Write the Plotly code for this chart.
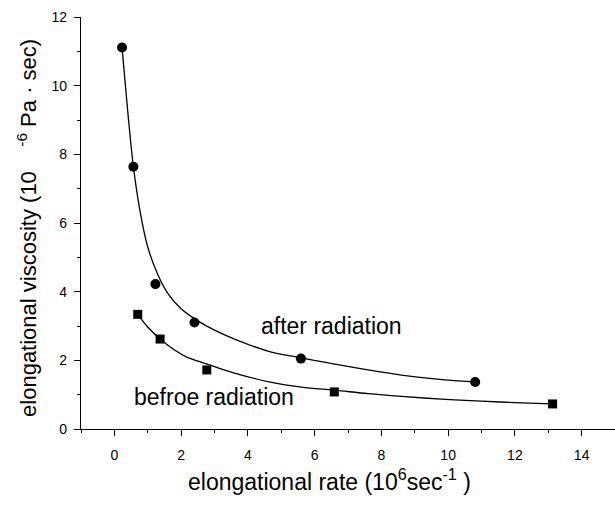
import plotly.graph_objects as go

# measured data points
after_x = [0.23, 0.57, 1.23, 2.40, 5.59, 10.81]
after_y = [11.11, 7.64, 4.22, 3.10, 2.05, 1.37]
before_x = [0.70, 1.37, 2.77, 6.59, 13.13]
before_y = [3.34, 2.62, 1.72, 1.08, 0.73]

# fitted curves
after_fit_x = [0.23, 0.4, 0.57, 0.75, 1.0, 1.3, 1.6, 2.0, 2.5, 3.0, 3.6, 4.6, 5.6, 6.6, 7.6, 8.6, 9.6, 10.8]
after_fit_y = [11.1, 9.25, 7.64, 6.45, 5.3, 4.5, 3.95, 3.5, 3.15, 2.88, 2.62, 2.27, 2.07, 1.89, 1.72, 1.57, 1.46, 1.37]
before_fit_x = [0.70, 1.0, 1.37, 1.8, 2.2, 2.6, 3.1, 3.6, 4.6, 5.6, 6.6, 7.6, 8.6, 9.8, 11.0, 12.0, 13.1]
before_fit_y = [3.34, 2.97, 2.62, 2.3, 2.08, 1.95, 1.78, 1.63, 1.38, 1.22, 1.13, 1.03, 0.95, 0.87, 0.81, 0.77, 0.73]

x_ticks = [0, 2, 4, 6, 8, 10, 12, 14]
y_ticks = [0, 2, 4, 6, 8, 10, 12]

x_title = "elongational rate (10<sup>6</sup>sec<sup>-1</sup> )"
y_title = "elongational viscosity (10    <sup>-6</sup> Pa · sec)"

FONT = "Arial, Liberation Sans, Helvetica, sans-serif"

fig = go.Figure()
fig.add_trace(go.Scatter(x=after_fit_x, y=after_fit_y, mode="lines",
                         line=dict(color="black", width=1.3, shape="spline", smoothing=1.0),
                         showlegend=False, hoverinfo="skip"))
fig.add_trace(go.Scatter(x=before_fit_x, y=before_fit_y, mode="lines",
                         line=dict(color="black", width=1.3, shape="spline", smoothing=1.0),
                         showlegend=False, hoverinfo="skip"))
fig.add_trace(go.Scatter(x=after_x, y=after_y, mode="markers", name="after radiation",
                         marker=dict(symbol="circle", size=10, color="black"), showlegend=False))
fig.add_trace(go.Scatter(x=before_x, y=before_y, mode="markers", name="befroe radiation",
                         marker=dict(symbol="square", size=9, color="black"), showlegend=False))

fig.add_annotation(x=6.52, y=3.0, text="after radiation", showarrow=False,
                   font=dict(size=23, color="black", family=FONT), xref="x", yref="y")
fig.add_annotation(x=2.99, y=0.94, text="befroe radiation", showarrow=False,
                   font=dict(size=23, color="black", family=FONT), xref="x", yref="y")

# axis titles placed as annotations to match the reference position
fig.add_annotation(x=0.466, y=0, xref="paper", yref="paper", yshift=-51,
                   xanchor="center", yanchor="middle", text=x_title, showarrow=False,
                   font=dict(size=23, color="black", family=FONT))
fig.add_annotation(x=0, y=0.488, xref="paper", yref="paper", xshift=-54,
                   xanchor="center", yanchor="middle", text=y_title, showarrow=False,
                   textangle=-90, font=dict(size=22, color="black", family=FONT))

fig.update_layout(
    width=615, height=509,
    margin=dict(l=81, r=0, t=17, b=80),
    plot_bgcolor="white", paper_bgcolor="white",
    font=dict(family=FONT, color="black"),
    xaxis=dict(
        range=[-1, 15], tickvals=x_ticks, showgrid=False, zeroline=False,
        showline=True, linecolor="black", linewidth=1.3,
        ticks="outside", ticklen=6, tickwidth=1.2, tickcolor="black",
        tickfont=dict(size=14, color="black"), ticklabelstandoff=7,
        minor=dict(ticks="outside", ticklen=3, dtick=1, tick0=0, tickcolor="black", showgrid=False),
    ),
    yaxis=dict(
        range=[0, 12], tickvals=y_ticks, showgrid=False, zeroline=False,
        showline=True, linecolor="black", linewidth=1.3,
        ticks="outside", ticklen=6, tickwidth=1.2, tickcolor="black",
        tickfont=dict(size=14, color="black"), ticklabelstandoff=4,
        minor=dict(ticks="outside", ticklen=3, dtick=1, tick0=0, tickcolor="black", showgrid=False),
    ),
)

fig.write_html("out.html")
